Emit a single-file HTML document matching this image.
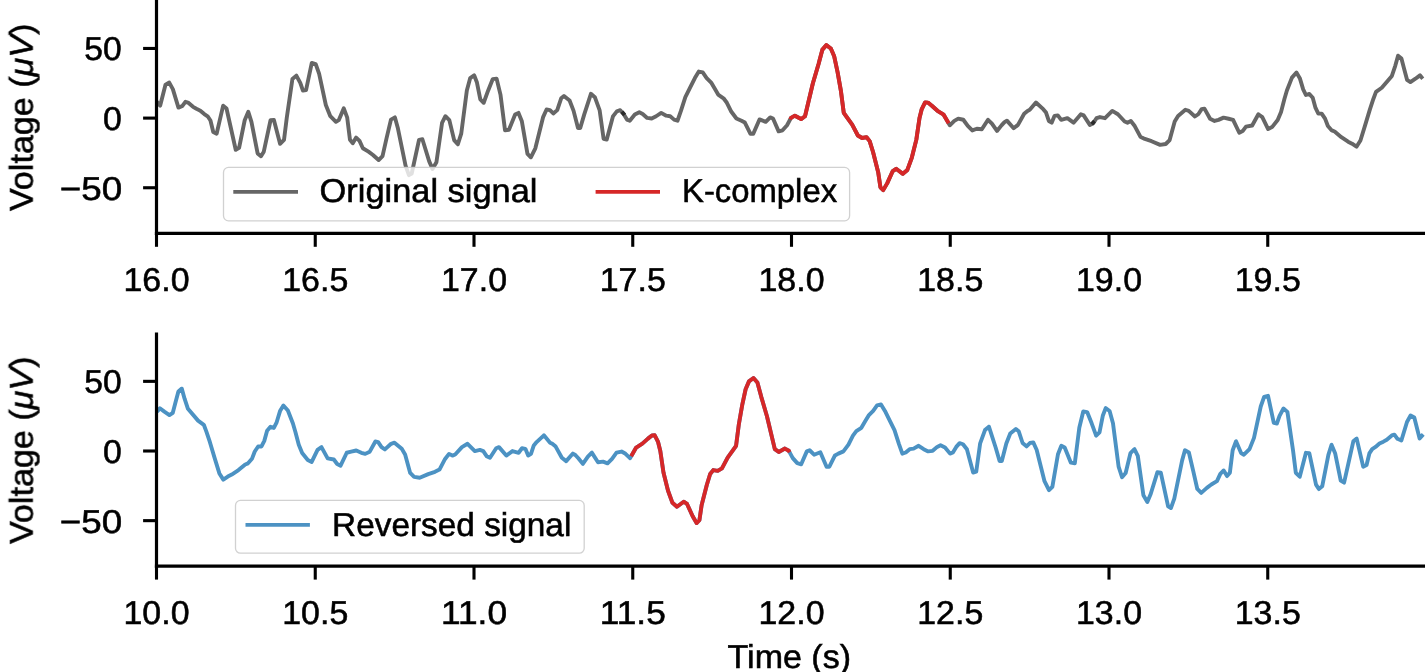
<!DOCTYPE html>
<html><head><meta charset="utf-8"><title>K-complex</title><style>
html,body{margin:0;padding:0;background:#fff;width:1425px;height:672px;overflow:hidden}
svg{display:block}
.tl{text-rendering:geometricPrecision}
svg text{will-change:transform}
</style></head><body>
<svg width="1425" height="672" viewBox="0 0 1425 672">
<style>.tl{font-family:"Liberation Sans", sans-serif;font-size:33px;fill:#000;stroke:#000;stroke-width:0.55px}</style>
<rect width="1425" height="672" fill="#fff"/>
<path d="M156.60,101.50 L160.20,105.60 L165.54,84.60 L169.25,82.58 L172.84,89.09 L178.46,107.62 L182.39,105.93 L185.42,101.78 L188.00,102.56 L193.05,106.83 L196.42,108.74 L200.35,110.65 L204.28,114.02 L207.65,116.26 L210.46,120.53 L213.26,132.05 L216.63,133.74 L223.15,105.67 L226.51,108.47 L235.72,149.79 L239.09,147.77 L244.70,120.26 L248.30,111.84 L251.44,121.95 L257.62,153.39 L260.99,156.19 L263.79,151.70 L270.53,120.26 L273.90,119.93 L280.07,143.84 L284.00,139.91 L286.81,117.46 L292.42,78.98 L296.35,75.61 L300.28,82.91 L302.95,90.60 L306.04,90.04 L311.79,62.91 L315.72,64.04 L319.09,73.58 L325.83,105.00 L330.32,116.23 L335.93,121.84 L338.74,120.16 L343.79,108.37 L347.16,117.35 L349.97,139.81 L352.77,143.18 L356.14,137.56 L359.51,140.93 L362.88,148.23 L368.49,151.60 L372.98,154.97 L378.60,160.02 L382.53,156.09 L386.46,138.69 L390.95,119.60 L394.88,117.35 L397.69,127.46 L405.55,165.63 L408.92,175.18 L411.72,173.49 L419.02,139.81 L422.39,139.25 L429.13,161.14 L432.49,169.00 L436.42,162.26 L442.04,122.97 L445.41,116.23 L449.34,120.16 L454.16,140.12 L457.81,144.33 L461.23,133.69 L466.84,90.42 L470.21,78.07 L474.14,75.26 L476.95,82.56 L480.32,99.40 L483.69,102.77 L488.18,90.42 L492.67,79.19 L496.60,78.63 L500.53,94.91 L505.02,130.32 L508.95,129.76 L515.12,114.60 L518.49,112.91 L521.86,121.33 L527.48,153.90 L530.84,157.26 L535.34,148.28 L543.20,116.84 L546.56,109.54 L549.93,110.11 L553.30,113.47 L557.23,110.11 L561.16,98.28 L563.97,96.04 L569.58,100.53 L573.51,110.63 L578.00,128.07 L580.25,128.07 L584.18,114.60 L590.92,93.79 L594.85,97.16 L599.67,110.42 L603.60,138.79 L606.69,139.63 L612.91,116.39 L616.84,111.33 L620.21,110.21 L623.58,114.00 L626.95,119.62 L629.76,120.74 L634.81,114.56 L639.30,112.32 L642.67,114.00 L647.16,117.93 L651.65,118.49 L656.14,116.25 L661.19,112.88 L666.25,115.69 L670.18,116.25 L674.11,119.62 L677.48,120.74 L680.84,111.19 L685.34,97.16 L689.83,88.18 L694.88,78.07 L698.81,71.56 L702.74,72.46 L706.67,78.07 L711.16,82.56 L714.53,88.18 L718.46,94.91 L723.51,98.28 L726.88,102.77 L731.37,111.76 L736.42,118.49 L741.48,120.74 L744.85,122.56 L750.46,133.79 L753.27,133.79 L759.49,119.40 L765.72,121.84 L770.21,117.35 L773.02,118.47 L778.63,131.39 L782.56,130.26 L787.05,125.21 L790.98,117.91 L794.91,115.67 L801.09,119.04 L805.02,116.23 L812.88,83.28 L818.49,64.19 L822.42,49.60 L826.35,45.11 L830.84,48.47 L834.21,56.33 L837.58,72.05 L840.95,91.14 L843.76,112.86 L847.69,118.47 L852.18,124.65 L857.88,135.49 L862.09,138.02 L866.58,137.18 L869.67,141.11 L873.04,152.05 L878.18,172.16 L880.42,187.32 L883.23,190.12 L887.16,183.39 L892.77,171.04 L896.14,168.79 L902.88,173.84 L907.37,169.91 L911.86,157.56 L916.35,139.60 L919.51,118.07 L921.76,109.09 L925.12,102.35 L927.93,102.58 L931.86,105.72 L937.48,110.77 L943.65,114.70 L949.80,125.30 L954.32,120.88 L958.25,118.63 L963.30,119.76 L967.79,125.93 L972.28,130.42 L976.78,128.74 L981.83,129.30 L988.00,119.76 L991.93,123.69 L996.99,130.98 L1001.48,125.37 L1004.49,122.11 L1006.91,120.65 L1013.65,128.23 L1017.97,124.91 L1024.14,113.69 L1027.51,110.88 L1029.76,109.76 L1035.93,102.46 L1043.23,109.19 L1046.04,112.56 L1048.84,120.98 L1051.65,122.67 L1054.46,115.93 L1057.83,115.37 L1061.19,119.86 L1067.37,118.18 L1073.55,122.67 L1080.84,114.25 L1083.65,115.37 L1089.83,124.91 L1093.20,123.23 L1096.56,118.18 L1099.93,117.05 L1104.99,118.18 L1112.28,110.88 L1117.90,114.25 L1124.64,121.55 L1127.44,122.67 L1130.81,120.98 L1134.74,126.04 L1140.35,136.70 L1144.85,138.95 L1151.58,141.19 L1160.11,144.90 L1165.72,144.00 L1169.65,140.07 L1174.70,121.55 L1178.07,115.93 L1185.37,109.76 L1188.74,110.88 L1194.91,116.49 L1198.28,114.25 L1201.65,109.19 L1204.46,108.63 L1210.07,118.74 L1214.56,120.98 L1218.49,119.86 L1223.55,117.62 L1228.60,118.74 L1233.09,119.86 L1239.27,132.77 L1242.63,131.09 L1246.00,126.60 L1252.18,125.47 L1258.35,114.25 L1262.28,117.05 L1268.13,129.07 L1272.06,127.11 L1277.68,120.09 L1281.05,111.95 L1284.41,99.04 L1286.90,90.53 L1291.95,77.62 L1296.44,72.56 L1299.81,78.18 L1303.18,89.40 L1305.98,95.02 L1309.35,93.90 L1312.72,97.83 L1315.53,107.97 L1318.33,113.58 L1321.70,113.58 L1325.07,118.63 L1327.88,125.93 L1331.81,130.42 L1334.62,131.55 L1341.35,137.16 L1348.09,141.65 L1352.02,143.67 L1356.51,146.70 L1360.44,140.53 L1364.93,125.93 L1369.99,109.09 L1373.35,98.98 L1376.00,91.90 L1381.78,87.72 L1391.88,75.93 L1395.25,65.83 L1398.06,55.72 L1401.42,58.53 L1404.23,69.19 L1407.04,79.86 L1410.41,82.11 L1415.46,78.74 L1419.95,75.37 L1422.76,78.74" fill="none" stroke="#666" stroke-width="3.9" stroke-linejoin="round"/>
<path d="M621.9,111.8 L624.6,115.1" stroke="#2b2b2b" stroke-width="3.9"/>
<path d="M1091.7,124.1 L1094.5,121.2" stroke="#2b2b2b" stroke-width="3.9"/>
<path d="M790.23,119.31 L790.98,117.91 L794.91,115.67 L801.09,119.04 L805.02,116.23 L812.88,83.28 L818.49,64.19 L822.42,49.60 L826.35,45.11 L830.84,48.47 L834.21,56.33 L837.58,72.05 L840.95,91.14 L843.76,112.86 L847.69,118.47 L852.18,124.65 L857.88,135.49 L862.09,138.02 L866.58,137.18 L869.67,141.11 L873.04,152.05 L878.18,172.16 L880.42,187.32 L883.23,190.12 L887.16,183.39 L892.77,171.04 L896.14,168.79 L902.88,173.84 L907.37,169.91 L911.86,157.56 L916.35,139.60 L919.51,118.07 L921.76,109.09 L925.12,102.35 L927.93,102.58 L931.86,105.72 L937.48,110.77 L943.65,114.70 L948.66,123.34" fill="none" stroke="#d62728" stroke-width="3.9" stroke-linejoin="round"/>
<path d="M1423.22,434.40 L1419.62,438.50 L1414.28,417.50 L1410.58,415.48 L1406.98,421.99 L1401.37,440.52 L1397.44,438.83 L1394.41,434.68 L1391.82,435.46 L1386.77,439.73 L1383.40,441.64 L1379.47,443.55 L1375.54,446.92 L1372.17,449.16 L1369.37,453.43 L1366.56,464.95 L1363.19,466.64 L1356.68,438.57 L1353.31,441.37 L1344.10,482.69 L1340.73,480.67 L1335.12,453.16 L1331.53,444.74 L1328.38,454.85 L1322.21,486.29 L1318.84,489.09 L1316.03,484.60 L1309.30,453.16 L1305.93,452.83 L1299.75,476.74 L1295.82,472.81 L1293.01,450.36 L1287.40,411.88 L1283.47,408.51 L1279.54,415.81 L1276.88,423.50 L1273.79,422.94 L1268.04,395.81 L1264.11,396.94 L1260.74,406.48 L1254.00,437.90 L1249.51,449.13 L1243.89,454.74 L1241.09,453.06 L1236.03,441.27 L1232.67,450.25 L1229.86,472.71 L1227.05,476.08 L1223.68,470.46 L1220.31,473.83 L1216.95,481.13 L1211.33,484.50 L1206.84,487.87 L1201.23,492.92 L1197.30,488.99 L1193.37,471.59 L1188.88,452.50 L1184.95,450.25 L1182.14,460.36 L1174.28,498.53 L1170.91,508.08 L1168.10,506.39 L1160.80,472.71 L1157.44,472.15 L1150.70,494.04 L1147.33,501.90 L1143.40,495.16 L1137.79,455.87 L1134.42,449.13 L1130.49,453.06 L1125.66,473.02 L1122.02,477.23 L1118.60,466.59 L1112.98,423.32 L1109.61,410.97 L1105.68,408.16 L1102.88,415.46 L1099.51,432.30 L1096.14,435.67 L1091.65,423.32 L1087.16,412.09 L1083.23,411.53 L1079.30,427.81 L1074.81,463.22 L1070.88,462.66 L1064.70,447.50 L1061.33,445.81 L1057.96,454.23 L1052.35,486.80 L1048.98,490.16 L1044.49,481.18 L1036.63,449.74 L1033.26,442.44 L1029.89,443.01 L1026.52,446.37 L1022.59,443.01 L1018.66,431.18 L1015.86,428.94 L1010.24,433.43 L1006.31,443.53 L1001.82,460.97 L999.58,460.97 L995.65,447.50 L988.91,426.69 L984.98,430.06 L980.16,443.32 L976.23,471.69 L973.14,472.53 L966.91,449.29 L962.98,444.23 L959.61,443.11 L956.25,446.90 L952.88,452.52 L950.07,453.64 L945.02,447.46 L940.53,445.22 L937.16,446.90 L932.67,450.83 L928.17,451.39 L923.68,449.15 L918.63,445.78 L913.58,448.59 L909.65,449.15 L905.72,452.52 L902.35,453.64 L898.98,444.09 L894.49,430.06 L890.00,421.08 L884.95,410.97 L881.02,404.46 L877.09,405.36 L873.16,410.97 L868.66,415.46 L865.30,421.08 L861.37,427.81 L856.31,431.18 L852.94,435.67 L848.45,444.66 L843.40,451.39 L838.35,453.64 L834.98,455.46 L829.36,466.69 L826.56,466.69 L820.33,452.30 L814.11,454.74 L809.61,450.25 L806.81,451.37 L801.19,464.29 L797.26,463.16 L792.77,458.11 L788.84,450.81 L784.91,448.57 L778.74,451.94 L774.81,449.13 L766.95,416.18 L761.33,397.09 L757.40,382.50 L753.47,378.01 L748.98,381.37 L745.61,389.23 L742.24,404.95 L738.88,424.04 L736.07,445.76 L732.14,451.37 L727.65,457.55 L721.95,468.39 L717.74,470.92 L713.24,470.08 L710.16,474.01 L706.79,484.95 L701.65,505.06 L699.40,520.22 L696.60,523.02 L692.67,516.29 L687.05,503.94 L683.68,501.69 L676.95,506.74 L672.45,502.81 L667.96,490.46 L663.47,472.50 L660.31,450.97 L658.07,441.99 L654.70,435.25 L651.89,435.48 L647.96,438.62 L642.35,443.67 L636.17,447.60 L630.02,458.20 L625.51,453.78 L621.58,451.53 L616.52,452.66 L612.03,458.83 L607.54,463.32 L603.05,461.64 L598.00,462.20 L591.82,452.66 L587.89,456.59 L582.84,463.88 L578.35,458.27 L575.33,455.01 L572.91,453.55 L566.17,461.13 L561.86,457.81 L555.68,446.59 L552.32,443.78 L550.07,442.66 L543.89,435.36 L536.60,442.09 L533.79,445.46 L530.98,453.88 L528.17,455.57 L525.37,448.83 L522.00,448.27 L518.63,452.76 L512.45,451.08 L506.28,455.57 L498.98,447.15 L496.17,448.27 L490.00,457.81 L486.63,456.13 L483.26,451.08 L479.89,449.95 L474.84,451.08 L467.54,443.78 L461.93,447.15 L455.19,454.45 L452.38,455.57 L449.01,453.88 L445.08,458.94 L439.47,469.60 L434.98,471.85 L428.24,474.09 L419.72,477.80 L414.11,476.90 L410.18,472.97 L405.12,454.45 L401.75,448.83 L394.46,442.66 L391.09,443.78 L384.91,449.39 L381.54,447.15 L378.17,442.09 L375.37,441.53 L369.75,451.64 L365.26,453.88 L361.33,452.76 L356.28,450.52 L351.23,451.64 L346.73,452.76 L340.56,465.67 L337.19,463.99 L333.82,459.50 L327.65,458.37 L321.47,447.15 L317.54,449.95 L311.69,461.97 L307.76,460.01 L302.15,452.99 L298.78,444.85 L295.41,431.94 L292.93,423.43 L287.88,410.52 L283.39,405.46 L280.02,411.08 L276.65,422.30 L273.84,427.92 L270.47,426.80 L267.10,430.73 L264.30,440.87 L261.49,446.48 L258.12,446.48 L254.75,451.53 L251.95,458.83 L248.02,463.32 L245.21,464.45 L238.47,470.06 L231.73,474.55 L227.81,476.57 L223.31,479.60 L219.38,473.43 L214.89,458.83 L209.84,441.99 L206.47,431.88 L203.82,424.80 L198.05,420.62 L187.94,408.83 L184.58,398.73 L181.77,388.62 L178.40,391.43 L175.59,402.09 L172.79,412.76 L169.42,415.01 L164.36,411.64 L159.87,408.27 L157.07,411.64" fill="none" stroke="#4c92c3" stroke-width="3.9" stroke-linejoin="round"/>
<path d="M789.59,452.21 L788.84,450.81 L784.91,448.57 L778.74,451.94 L774.81,449.13 L766.95,416.18 L761.33,397.09 L757.40,382.50 L753.47,378.01 L748.98,381.37 L745.61,389.23 L742.24,404.95 L738.88,424.04 L736.07,445.76 L732.14,451.37 L727.65,457.55 L721.95,468.39 L717.74,470.92 L713.24,470.08 L710.16,474.01 L706.79,484.95 L701.65,505.06 L699.40,520.22 L696.60,523.02 L692.67,516.29 L687.05,503.94 L683.68,501.69 L676.95,506.74 L672.45,502.81 L667.96,490.46 L663.47,472.50 L660.31,450.97 L658.07,441.99 L654.70,435.25 L651.89,435.48 L647.96,438.62 L642.35,443.67 L636.17,447.60 L631.16,456.24" fill="none" stroke="#d62728" stroke-width="3.9" stroke-linejoin="round"/>
<line x1="156.50" y1="233.4" x2="156.50" y2="246.8" stroke="#000" stroke-width="3.1"/>
<line x1="315.25" y1="233.4" x2="315.25" y2="246.8" stroke="#000" stroke-width="3.1"/>
<line x1="474.00" y1="233.4" x2="474.00" y2="246.8" stroke="#000" stroke-width="3.1"/>
<line x1="632.75" y1="233.4" x2="632.75" y2="246.8" stroke="#000" stroke-width="3.1"/>
<line x1="791.50" y1="233.4" x2="791.50" y2="246.8" stroke="#000" stroke-width="3.1"/>
<line x1="950.25" y1="233.4" x2="950.25" y2="246.8" stroke="#000" stroke-width="3.1"/>
<line x1="1109.00" y1="233.4" x2="1109.00" y2="246.8" stroke="#000" stroke-width="3.1"/>
<line x1="1267.75" y1="233.4" x2="1267.75" y2="246.8" stroke="#000" stroke-width="3.1"/>
<line x1="143.1" y1="48.45" x2="156.5" y2="48.45" stroke="#000" stroke-width="3.1"/>
<line x1="143.1" y1="118.10" x2="156.5" y2="118.10" stroke="#000" stroke-width="3.1"/>
<line x1="143.1" y1="187.75" x2="156.5" y2="187.75" stroke="#000" stroke-width="3.1"/>
<line x1="156.5" y1="-2" x2="156.5" y2="235.0" stroke="#000" stroke-width="3.2"/>
<line x1="154.9" y1="233.4" x2="1430" y2="233.4" stroke="#000" stroke-width="3.2"/>
<text x="156.50" y="291.00" class="tl" text-anchor="middle" textLength="66.00" lengthAdjust="spacingAndGlyphs">16.0</text>
<text x="315.25" y="291.00" class="tl" text-anchor="middle" textLength="66.00" lengthAdjust="spacingAndGlyphs">16.5</text>
<text x="474.00" y="291.00" class="tl" text-anchor="middle" textLength="66.00" lengthAdjust="spacingAndGlyphs">17.0</text>
<text x="632.75" y="291.00" class="tl" text-anchor="middle" textLength="66.00" lengthAdjust="spacingAndGlyphs">17.5</text>
<text x="791.50" y="291.00" class="tl" text-anchor="middle" textLength="66.00" lengthAdjust="spacingAndGlyphs">18.0</text>
<text x="950.25" y="291.00" class="tl" text-anchor="middle" textLength="66.00" lengthAdjust="spacingAndGlyphs">18.5</text>
<text x="1109.00" y="291.00" class="tl" text-anchor="middle" textLength="66.00" lengthAdjust="spacingAndGlyphs">19.0</text>
<text x="1267.75" y="291.00" class="tl" text-anchor="middle" textLength="66.00" lengthAdjust="spacingAndGlyphs">19.5</text>
<text x="84.20" y="60.30" class="tl" textLength="37.40" lengthAdjust="spacingAndGlyphs">50</text>
<text x="102.90" y="130.00" class="tl" textLength="18.80" lengthAdjust="spacingAndGlyphs">0</text>
<text x="59.80" y="199.60" class="tl" textLength="62.40" lengthAdjust="spacingAndGlyphs">−50</text>
<line x1="156.50" y1="566.2" x2="156.50" y2="579.6" stroke="#000" stroke-width="3.1"/>
<line x1="315.25" y1="566.2" x2="315.25" y2="579.6" stroke="#000" stroke-width="3.1"/>
<line x1="474.00" y1="566.2" x2="474.00" y2="579.6" stroke="#000" stroke-width="3.1"/>
<line x1="632.75" y1="566.2" x2="632.75" y2="579.6" stroke="#000" stroke-width="3.1"/>
<line x1="791.50" y1="566.2" x2="791.50" y2="579.6" stroke="#000" stroke-width="3.1"/>
<line x1="950.25" y1="566.2" x2="950.25" y2="579.6" stroke="#000" stroke-width="3.1"/>
<line x1="1109.00" y1="566.2" x2="1109.00" y2="579.6" stroke="#000" stroke-width="3.1"/>
<line x1="1267.75" y1="566.2" x2="1267.75" y2="579.6" stroke="#000" stroke-width="3.1"/>
<line x1="143.1" y1="381.35" x2="156.5" y2="381.35" stroke="#000" stroke-width="3.1"/>
<line x1="143.1" y1="451.00" x2="156.5" y2="451.00" stroke="#000" stroke-width="3.1"/>
<line x1="143.1" y1="520.65" x2="156.5" y2="520.65" stroke="#000" stroke-width="3.1"/>
<line x1="156.5" y1="332.6" x2="156.5" y2="567.8" stroke="#000" stroke-width="3.2"/>
<line x1="154.9" y1="566.2" x2="1430" y2="566.2" stroke="#000" stroke-width="3.2"/>
<text x="156.50" y="624.10" class="tl" text-anchor="middle" textLength="66.00" lengthAdjust="spacingAndGlyphs">10.0</text>
<text x="315.25" y="624.10" class="tl" text-anchor="middle" textLength="66.00" lengthAdjust="spacingAndGlyphs">10.5</text>
<text x="474.00" y="624.10" class="tl" text-anchor="middle" textLength="66.00" lengthAdjust="spacingAndGlyphs">11.0</text>
<text x="632.75" y="624.10" class="tl" text-anchor="middle" textLength="66.00" lengthAdjust="spacingAndGlyphs">11.5</text>
<text x="791.50" y="624.10" class="tl" text-anchor="middle" textLength="66.00" lengthAdjust="spacingAndGlyphs">12.0</text>
<text x="950.25" y="624.10" class="tl" text-anchor="middle" textLength="66.00" lengthAdjust="spacingAndGlyphs">12.5</text>
<text x="1109.00" y="624.10" class="tl" text-anchor="middle" textLength="66.00" lengthAdjust="spacingAndGlyphs">13.0</text>
<text x="1267.75" y="624.10" class="tl" text-anchor="middle" textLength="66.00" lengthAdjust="spacingAndGlyphs">13.5</text>
<text x="84.20" y="393.20" class="tl" textLength="37.40" lengthAdjust="spacingAndGlyphs">50</text>
<text x="102.90" y="462.90" class="tl" textLength="18.80" lengthAdjust="spacingAndGlyphs">0</text>
<text x="59.80" y="532.50" class="tl" textLength="62.40" lengthAdjust="spacingAndGlyphs">−50</text>
<rect x="223.5" y="167.4" width="626.1" height="53.4" rx="5" ry="5" fill="#fff" fill-opacity="0.8" stroke="#cccccc" stroke-opacity="0.9" stroke-width="1.3"/>
<line x1="233.3" y1="191.9" x2="298" y2="191.9" stroke="#666" stroke-width="3.9"/>
<line x1="595.6" y1="191.9" x2="660" y2="191.9" stroke="#d62728" stroke-width="3.9"/>
<rect x="235.5" y="500.4" width="348.7" height="52.8" rx="5" ry="5" fill="#fff" fill-opacity="0.8" stroke="#cccccc" stroke-opacity="0.9" stroke-width="1.3"/>
<line x1="245.5" y1="524.9" x2="309.9" y2="524.9" stroke="#4c92c3" stroke-width="3.9"/>
<text x="319.60" y="202.20" class="tl" textLength="217.80" lengthAdjust="spacingAndGlyphs">Original signal</text>
<text x="682.00" y="202.20" class="tl" textLength="155.10" lengthAdjust="spacingAndGlyphs">K-complex</text>
<text x="332.10" y="535.50" class="tl" textLength="239.20" lengthAdjust="spacingAndGlyphs">Reversed signal</text>
<text x="727.60" y="667.70" class="tl" textLength="123.40" lengthAdjust="spacingAndGlyphs">Time (s)</text>
<text transform="translate(32.70,211.00) rotate(-90)" class="tl" textLength="187.40" lengthAdjust="spacingAndGlyphs">Voltage (<tspan font-style="italic">μV</tspan>)</text>
<text transform="translate(32.70,543.90) rotate(-90)" class="tl" textLength="187.40" lengthAdjust="spacingAndGlyphs">Voltage (<tspan font-style="italic">μV</tspan>)</text>
</svg>
</body></html>
